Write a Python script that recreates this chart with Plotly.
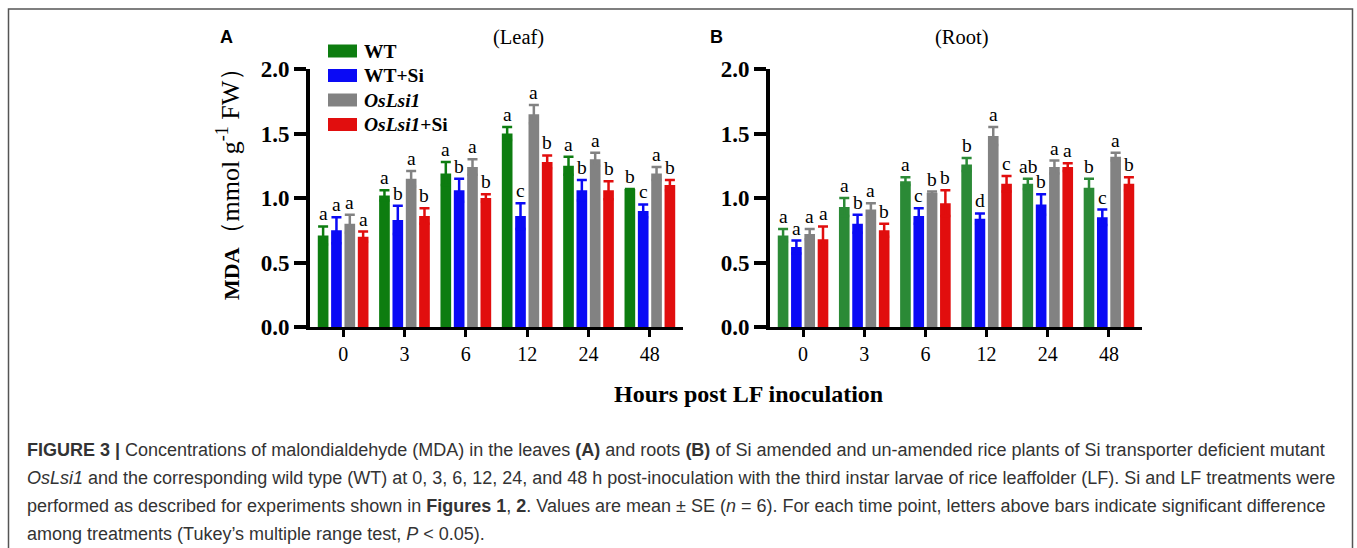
import plotly.graph_objects as go

W, H = 1357, 548

hours = ["0", "3", "6", "12", "24", "48"]
series = ["WT", "WT+Si", "OsLsi1", "OsLsi1+Si"]
legend_labels = ["<b>WT</b>", "<b>WT+Si</b>", "<b><i>OsLsi1</i></b>", "<b><i>OsLsi1</i>+Si</b>"]

# Leaf (panel A)
leaf_wt = [0.71, 1.02, 1.19, 1.50, 1.25, 1.07]
leaf_wtsi = [0.75, 0.83, 1.06, 0.86, 1.06, 0.90]
leaf_os = [0.80, 1.15, 1.24, 1.65, 1.30, 1.19]
leaf_ossi = [0.70, 0.86, 1.00, 1.28, 1.06, 1.10]
leaf_wt_se = [0.07, 0.04, 0.09, 0.05, 0.07, 0.00]
leaf_wtsi_se = [0.10, 0.11, 0.09, 0.10, 0.08, 0.05]
leaf_os_se = [0.07, 0.06, 0.06, 0.07, 0.05, 0.05]
leaf_ossi_se = [0.04, 0.06, 0.03, 0.05, 0.07, 0.04]
leaf_wt_let = ["a", "a", "a", "a", "a", "b"]
leaf_wtsi_let = ["a", "b", "b", "c", "b", "c"]
leaf_os_let = ["a", "a", "a", "a", "a", "a"]
leaf_ossi_let = ["a", "b", "b", "b", "b", "b"]

# Root (panel B)
root_wt = [0.71, 0.93, 1.13, 1.26, 1.11, 1.08]
root_wtsi = [0.62, 0.80, 0.86, 0.84, 0.95, 0.85]
root_os = [0.72, 0.91, 1.04, 1.48, 1.24, 1.32]
root_ossi = [0.68, 0.75, 0.96, 1.11, 1.24, 1.11]
root_wt_se = [0.05, 0.07, 0.03, 0.05, 0.04, 0.07]
root_wtsi_se = [0.05, 0.07, 0.06, 0.04, 0.08, 0.06]
root_os_se = [0.04, 0.05, 0.01, 0.07, 0.05, 0.03]
root_ossi_se = [0.10, 0.05, 0.10, 0.06, 0.03, 0.05]
root_wt_let = ["a", "a", "a", "b", "ab", "b"]
root_wtsi_let = ["a", "b", "c", "d", "b", "c"]
root_os_let = ["a", "a", "b", "a", "a", "a"]
root_ossi_let = ["a", "b", "b", "c", "a", "b"]

colors_a = ["#0D7D10", "#0A0AF5", "#828282", "#E10E0E"]
colors_b = ["#2B8A36", "#0A0AF5", "#828282", "#E10E0E"]

SERIF = "Liberation Serif, Times New Roman, serif"
SANS = "Liberation Sans, Arial, sans-serif"

def px(x):
    return x / W

def py(y):
    return 1 - y / H

XR = [-0.54, 5.54]
BARGAP = 0.13
GROUPGAP = 0.2

panels = [
    dict(xa="x", ya="y", dom=(310, 683), colors=colors_a,
         means=[leaf_wt, leaf_wtsi, leaf_os, leaf_ossi],
         ses=[leaf_wt_se, leaf_wtsi_se, leaf_os_se, leaf_ossi_se],
         lets=[leaf_wt_let, leaf_wtsi_let, leaf_os_let, leaf_ossi_let]),
    dict(xa="x2", ya="y2", dom=(770, 1142), colors=colors_b,
         means=[root_wt, root_wtsi, root_os, root_ossi],
         ses=[root_wt_se, root_wtsi_se, root_os_se, root_ossi_se],
         lets=[root_wt_let, root_wtsi_let, root_os_let, root_ossi_let]),
]

fig = go.Figure()
annotations = []

for p in panels:
    unit_px = (p["dom"][1] - p["dom"][0]) / (XR[1] - XR[0])
    slot = unit_px * (1 - BARGAP) / len(series)
    for i, name in enumerate(series):
        col = p["colors"][i]
        fig.add_trace(go.Bar(
            x=list(range(len(hours))), y=p["means"][i], name=name,
            xaxis=p["xa"], yaxis=p["ya"], marker=dict(color=col, line=dict(width=0)),
            error_y=dict(type="data", array=p["ses"][i], visible=True,
                         color=col, thickness=2.5, width=5),
            showlegend=False,
        ))
        off = (i - (len(series) - 1) / 2) * slot
        for k in range(len(hours)):
            annotations.append(dict(
                x=k, y=p["means"][i][k] + p["ses"][i][k], xref=p["xa"], yref=p["ya"],
                text=p["lets"][i][k], showarrow=False, xshift=off, yshift=0,
                yanchor="bottom", xanchor="center",
                font=dict(family=SERIF, size=19.5, color="black")))

axis_common_x = dict(range=XR, tickmode="array", tickvals=list(range(len(hours))),
                     ticktext=hours, showline=True, linecolor="black", linewidth=3,
                     ticks="outside", ticklen=7, tickwidth=3, tickcolor="black",
                     showgrid=False, zeroline=False, automargin=False,
                     tickfont=dict(family=SERIF, size=20, color="black"))
axis_common_y = dict(range=[0, 2.0], tickvals=[0, 0.5, 1.0, 1.5, 2.0],
                     ticktext=["0.0", "0.5", "1.0", "1.5", "2.0"],
                     showline=True, linecolor="black", linewidth=4,
                     ticks="outside", ticklen=12, tickwidth=4, tickcolor="black",
                     showgrid=False, zeroline=False, automargin=False,
                     tickfont=dict(family=SERIF, size=23, color="black", weight="bold"))

ydom = [py(327), py(69)]
fig.update_layout(
    width=W, height=H, margin=dict(l=0, r=0, t=0, b=0, pad=0, autoexpand=False),
    autosize=False,
    paper_bgcolor="white", plot_bgcolor="white",
    barmode="group", bargap=BARGAP, bargroupgap=GROUPGAP,
    xaxis=dict(domain=[px(310), px(683)], anchor="y", **axis_common_x),
    yaxis=dict(domain=ydom, anchor="x", **axis_common_y),
    xaxis2=dict(domain=[px(770), px(1142)], anchor="y2", **axis_common_x),
    yaxis2=dict(domain=ydom, anchor="x2", **axis_common_y),
    showlegend=False,
)

shapes = []
# figure frame
shapes.append(dict(type="rect", xref="paper", yref="paper",
                   x0=px(8.5), x1=px(1352.5), y0=py(560), y1=py(9),
                   line=dict(color="#555555", width=1.5), fillcolor="rgba(0,0,0,0)", layer="below"))

# legend (panel A)
for i, lab in enumerate(legend_labels):
    yc = 51 + i * 24.5
    shapes.append(dict(type="rect", xref="paper", yref="paper",
                       x0=px(328), x1=px(357), y0=py(yc + 6.5), y1=py(yc - 6.5),
                       line=dict(width=0), fillcolor=colors_a[i]))
    annotations.append(dict(x=px(362), y=py(yc), xref="paper", yref="paper",
                            text=lab, showarrow=False, xanchor="left", yanchor="middle",
                            font=dict(family=SERIF, size=19.5, color="black")))

# panel letters and titles
annotations += [
    dict(x=px(226), y=py(37), text="<b>A</b>", font=dict(family=SANS, size=18, color="black")),
    dict(x=px(716), y=py(37), text="<b>B</b>", font=dict(family=SANS, size=18, color="black")),
    dict(x=px(518), y=py(37), text="(Leaf)", font=dict(family=SERIF, size=20.5, color="black")),
    dict(x=px(962), y=py(37), text="(Root)", font=dict(family=SERIF, size=20.5, color="black")),
    dict(x=px(228), y=py(178),
         text="<b>MDA</b><span style='font-size:26px'>（mmol g<sup>-1</sup> FW）</span>",
         textangle=-90, font=dict(family=SERIF, size=22, color="black")),
    dict(x=px(748), y=py(394), text="<b>Hours post LF inoculation</b>",
         font=dict(family=SERIF, size=24, color="black")),
]
for a in annotations[-6:]:
    a.update(xref="paper", yref="paper", showarrow=False, xanchor="center", yanchor="middle")

caption = [
    "<b>FIGURE 3 |</b> Concentrations of malondialdehyde (MDA) in the leaves <b>(A)</b> and roots <b>(B)</b> of Si amended and un-amended rice plants of Si transporter deficient mutant",
    "<i>OsLsi1</i> and the corresponding wild type (WT) at 0, 3, 6, 12, 24, and 48 h post-inoculation with the third instar larvae of rice leaffolder (LF). Si and LF treatments were",
    "performed as described for experiments shown in <b>Figures 1</b>, <b>2</b>. Values are mean ± SE (<i>n</i> = 6). For each time point, letters above bars indicate significant difference",
    "among treatments (Tukey’s multiple range test, <i>P</i> &lt; 0.05).",
]
for j, line in enumerate(caption):
    annotations.append(dict(x=px(25), y=py(450 + j * 28), xref="paper", yref="paper",
                            text=line, showarrow=False, xanchor="left", yanchor="middle",
                            font=dict(family=SANS, size=18, color="#333333")))

fig.update_layout(shapes=shapes, annotations=annotations)
fig.write_html("out.html",
               post_script="document.body.style.margin='0';document.body.style.overflow='hidden';")
